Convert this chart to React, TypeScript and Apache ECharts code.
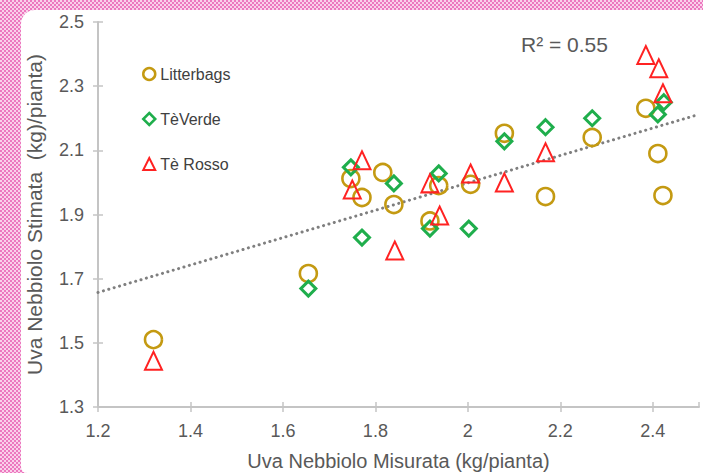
import React, { useEffect, useRef } from "react";
import * as echarts from "echarts";

const litterX = [1.32, 1.655, 1.747, 1.771, 1.816, 1.84, 1.937, 1.918, 2.006, 2.079, 2.168, 2.269, 2.385, 2.411, 2.422];
const litterY = [1.51, 1.716, 2.012, 1.953, 2.031, 1.931, 1.99, 1.88, 1.994, 2.153, 1.956, 2.14, 2.231, 2.09, 1.959];

const verdeX = [1.655, 1.747, 1.771, 1.84, 1.937, 1.918, 2.002, 2.079, 2.168, 2.269, 2.424, 2.411];
const verdeY = [1.669, 2.047, 1.828, 1.997, 2.028, 1.856, 1.856, 2.128, 2.172, 2.2, 2.25, 2.212];

const rossoX = [1.32, 1.771, 1.75, 1.842, 1.918, 1.939, 2.006, 2.079, 2.168, 2.385, 2.413, 2.422];
const rossoY = [1.444, 2.069, 1.978, 1.788, 1.997, 1.897, 2.028, 2.0, 2.094, 2.397, 2.356, 2.278];

const trendX = [1.2, 2.5];
const trendY = [1.657, 2.212];

const seriesNames = ["Litterbags", "TèVerde", "Tè Rosso"];
const xTitle = "Uva Nebbiolo Misurata (kg/pianta)";
const yTitle = "Uva Nebbiolo Stimata  (kg)/pianta)";
const r2Label = "R² = 0.55";

const zip = (xs: number[], ys: number[]) => xs.map((x, i) => [x, ys[i]]);

const GOLD = "#c49a12";
const GREEN = "#1fae4c";
const RED = "#ff2222";
const AXIS = "#c4c4c4";
const LABEL = "#595959";
const FONT = "'Liberation Sans', Arial, sans-serif";

export default function App() {
  const ref = useRef<HTMLDivElement>(null);
  useEffect(() => {
    if (!ref.current) return;
    const chart = echarts.init(ref.current, undefined, { renderer: "svg" });
    const baseX = {
      type: "value",
      min: 1.2,
      max: 2.5,
      interval: 0.2,
    };
    const baseY = {
      type: "value",
      min: 1.3,
      max: 2.5,
      interval: 0.2,
    };
    chart.setOption({
      animation: false,
      backgroundColor: "transparent",
      textStyle: { fontFamily: FONT },
      grid: { left: 98, right: 4, top: 22, bottom: 66, outerBoundsMode: "none", containLabel: false },
      legend: {
        orient: "vertical",
        left: 137,
        top: 61,
        itemWidth: 12,
        itemHeight: 12,
        itemGap: 29,
        textStyle: { color: "#404040", fontSize: 16, fontFamily: FONT },
        data: [
          { name: seriesNames[0], icon: "circle", itemStyle: { color: "#fff", borderColor: GOLD, borderWidth: 2.5 } },
          { name: seriesNames[1], icon: "diamond", itemStyle: { color: "#fff", borderColor: GREEN, borderWidth: 2.5 } },
          { name: seriesNames[2], icon: "triangle", itemStyle: { color: "#fff", borderColor: RED, borderWidth: 2 } },
        ],
      },
      xAxis: [
        {
          ...baseX,
          name: xTitle,
          nameLocation: "middle",
          nameGap: 44,
          nameTextStyle: { color: LABEL, fontSize: 20, fontFamily: FONT },
          axisLine: { lineStyle: { color: AXIS, width: 2 } },
          axisTick: { show: true, length: 5, lineStyle: { color: AXIS, width: 1.5 } },
          axisLabel: {
            color: LABEL,
            fontSize: 18,
            margin: 15,
            showMaxLabel: false,
            formatter: (v: number) => (Math.round(v * 10) / 10).toString(),
          },
          splitLine: { show: false },
        },
        {
          ...baseX,
          position: "bottom",
          axisLine: { show: false },
          axisTick: { show: true, inside: true, length: 5, lineStyle: { color: AXIS, width: 1.5 } },
          axisLabel: { show: false },
          splitLine: { show: false },
        },
      ],
      yAxis: [
        {
          ...baseY,
          name: yTitle,
          nameLocation: "middle",
          nameGap: 53,
          nameTextStyle: { color: LABEL, fontSize: 21, fontFamily: FONT },
          axisLine: { show: true, lineStyle: { color: AXIS, width: 2 } },
          axisTick: { show: true, length: 5, lineStyle: { color: AXIS, width: 1.5 } },
          axisLabel: {
            color: LABEL,
            fontSize: 18,
            margin: 14,
            formatter: (v: number) => v.toFixed(1),
          },
          splitLine: { show: false },
        },
        {
          ...baseY,
          position: "left",
          axisLine: { show: false },
          axisTick: { show: true, inside: true, length: 5, lineStyle: { color: AXIS, width: 1.5 } },
          axisLabel: { show: false },
          splitLine: { show: false },
        },
      ],
      graphic: [
        {
          type: "text",
          left: 521,
          top: 34,
          style: { text: r2Label, fill: LABEL, fontSize: 21, fontFamily: FONT },
        },
      ],
      series: [
        {
          name: "trend",
          type: "line",
          data: zip(trendX, trendY),
          symbol: "none",
          silent: true,
          z: 1,
          lineStyle: { color: "#7f7f7f", width: 3, type: [0.1, 5.5], cap: "round" },
        },
        {
          name: seriesNames[0],
          type: "scatter",
          data: zip(litterX, litterY),
          symbol: "circle",
          symbolSize: 17,
          z: 2,
          itemStyle: { color: "rgba(255,255,255,0)", borderColor: GOLD, borderWidth: 2.6, opacity: 1 },
        },
        {
          name: seriesNames[1],
          type: "scatter",
          data: zip(verdeX, verdeY),
          symbol: "diamond",
          symbolSize: 15,
          z: 3,
          itemStyle: { color: "rgba(255,255,255,0)", borderColor: GREEN, borderWidth: 3, opacity: 1 },
        },
        {
          name: seriesNames[2],
          type: "scatter",
          data: zip(rossoX, rossoY),
          symbol: "triangle",
          symbolSize: [17, 18],
          z: 4,
          itemStyle: { color: "rgba(255,255,255,0)", borderColor: RED, borderWidth: 2, opacity: 1 },
        },
      ],
    });
    return () => chart.dispose();
  }, []);

  return (
    <div
      style={{
        position: "fixed",
        left: 0,
        top: 0,
        width: 703,
        height: 473,
        overflow: "hidden",
        backgroundColor: "#f4a6d4",
        backgroundImage: "repeating-conic-gradient(#ec78bf 0% 25%, #fad0ea 0% 50%)",
        backgroundSize: "4px 4px",
      }}
    >
      <div
        style={{
          position: "absolute",
          left: 21,
          top: 10,
          right: 0,
          bottom: 0,
          background: "#ffffff",
          borderTopLeftRadius: 14,
          borderBottomLeftRadius: 6,
        }}
      />
      <div ref={ref} style={{ position: "absolute", left: 0, top: 0, width: 703, height: 473 }} />
    </div>
  );
}
